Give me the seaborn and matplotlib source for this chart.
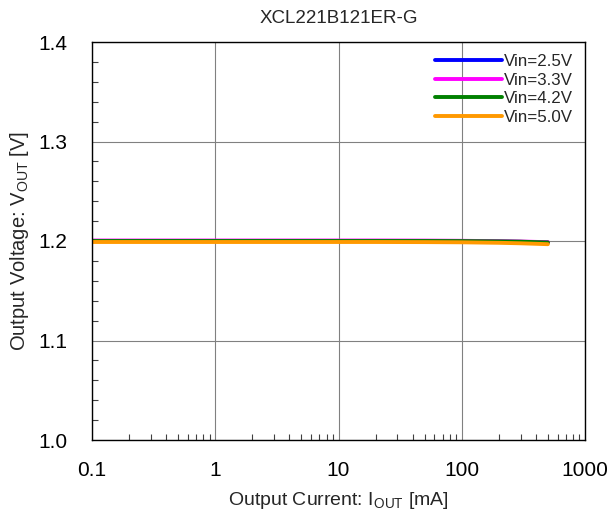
import numpy as np
import pandas as pd
import matplotlib
matplotlib.use('Agg')
import matplotlib.pyplot as plt
import seaborn as sns
from matplotlib.ticker import FixedLocator, LogLocator, NullFormatter, MultipleLocator

sns.set_style('white')
plt.rcParams['font.family'] = ['Liberation Sans', 'DejaVu Sans']
plt.rcParams['mathtext.fontset'] = 'custom'
plt.rcParams['mathtext.rm'] = 'Liberation Sans'

iout = [0.1, 0.2, 0.5, 1, 2, 5, 10, 20, 50, 100, 200, 300, 500]
v_25 = [1.2000, 1.2000, 1.2000, 1.2000, 1.2000, 1.2000, 1.2000, 1.2000, 1.2000, 1.1998, 1.1994, 1.1991, 1.1986]
v_33 = [1.2005, 1.2005, 1.2005, 1.2005, 1.2005, 1.2005, 1.2005, 1.2005, 1.2004, 1.2002, 1.1998, 1.1995, 1.1988]
v_42 = [1.2000, 1.2000, 1.2000, 1.2000, 1.2000, 1.2000, 1.2000, 1.2000, 1.2000, 1.1999, 1.1996, 1.1993, 1.1985]
v_50 = [1.1990, 1.1990, 1.1990, 1.1990, 1.1990, 1.1990, 1.1990, 1.1990, 1.1989, 1.1987, 1.1982, 1.1977, 1.1968]
labels = ['Vin=2.5V', 'Vin=3.3V', 'Vin=4.2V', 'Vin=5.0V']
colors = ['#0000ff', '#ff00ff', '#008000', '#ff9900']

df = pd.concat([
    pd.DataFrame({'Iout': iout, 'Vout': v, 'Vin': lab})
    for v, lab in zip([v_25, v_33, v_42, v_50], labels)
])

fig = plt.figure(figsize=(6.14, 5.18), dpi=100)
ax = fig.add_axes([92 / 614, 1 - 440 / 518, 493 / 614, 398 / 518])

sns.lineplot(data=df, x='Iout', y='Vout', hue='Vin', palette=colors,
             hue_order=labels, linewidth=2.8, ax=ax)

ax.set_xscale('log')
ax.set_xlim(0.1, 1000)
ax.set_ylim(1.0, 1.4)
ax.xaxis.set_major_locator(FixedLocator([0.1, 1, 10, 100, 1000]))
ax.set_xticklabels(['0.1', '1', '10', '100', '1000'])
ax.xaxis.set_minor_locator(LogLocator(base=10, subs=np.arange(2, 10)))
ax.xaxis.set_minor_formatter(NullFormatter())
ax.yaxis.set_major_locator(MultipleLocator(0.1))
ax.yaxis.set_minor_locator(MultipleLocator(0.02))
ax.set_yticklabels([f'{t:.1f}' for t in ax.get_yticks()])

ax.grid(True, which='major', color='#808080', linewidth=0.8)
ax.tick_params(which='both', bottom=True, left=True, direction='in', length=4,
               width=0.8, colors='#404040', labelcolor='black', labelsize=15)
ax.tick_params(axis='x', which='major', length=0, pad=15)
ax.tick_params(axis='y', which='major', length=0, pad=18)
for s in ax.spines.values():
    s.set_color('black')
    s.set_linewidth(1.0)

ax.set_title('XCL221B121ER-G', fontsize=13.5, pad=14)
ax.set_xlabel(r'Output Current: I$_{\mathrm{OUT}}$ [mA]', fontsize=14, labelpad=7)
ax.set_ylabel(r'Output Voltage: V$_{\mathrm{OUT}}$ [V]', fontsize=14.5, labelpad=5)

leg = ax.legend(loc='upper right', frameon=False, fontsize=12.2, handlelength=4.0,
                handletextpad=0.1, labelspacing=0.22, borderaxespad=0.3)
for line in leg.get_lines():
    line.set_linewidth(2.8)

fig.savefig('out.png', dpi=100)
